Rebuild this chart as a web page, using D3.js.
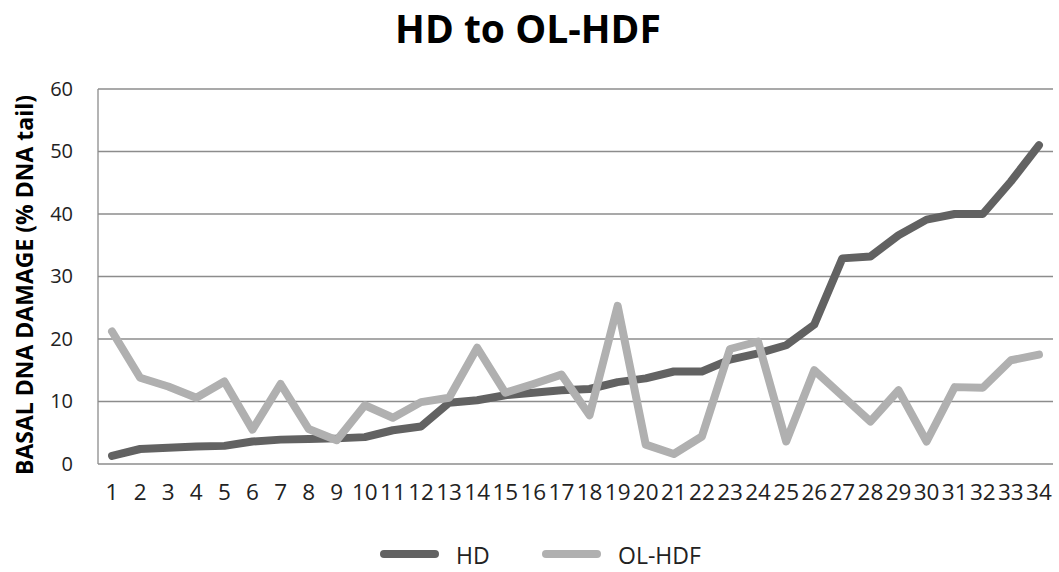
<!DOCTYPE html>
<html><head><meta charset="utf-8">
<script src="https://cdn.jsdelivr.net/npm/d3@7/dist/d3.min.js"></script>
<style>body{margin:0;background:#fff}svg{display:block}</style>
</head><body>
<script>
const categories = d3.range(1, 35).map(String);
const hdValues = [1.3,2.4,2.6,2.8,2.9,3.6,3.9,4.0,4.1,4.3,5.4,6.0,9.8,10.2,11.0,11.4,11.8,12.0,13.1,13.7,14.8,14.8,16.7,17.7,19.0,22.3,32.9,33.2,36.6,39.1,40.0,40.0,45.2,51.0];
const olhdfValues = [21.2,13.8,12.4,10.6,13.2,5.5,12.8,5.6,3.8,9.4,7.4,9.9,10.6,18.6,11.4,12.8,14.3,7.8,25.3,3.1,1.6,4.4,18.4,19.6,3.6,15.0,10.9,6.8,11.8,3.6,12.3,12.2,16.6,17.5];
const yTicks = [0,10,20,30,40,50,60];
const seriesNames = ["HD","OL-HDF"];
const seriesColors = ["#626262","#b0b0b0"];

const W = 1059, H = 572;
const m = {left: 98, right: 6, top: 89, bottom: 108};
const svg = d3.select("body").append("svg").attr("width", W).attr("height", H);
const font = "'Open Sans', 'Noto Sans', sans-serif";

const x = d3.scaleBand().domain(categories).range([m.left, W - m.right]);
const y = d3.scaleLinear().domain([0, 60]).range([H - m.bottom, m.top]);

// gridlines
svg.append("g").selectAll("line").data(yTicks).join("line")
  .attr("x1", m.left).attr("x2", W - m.right)
  .attr("y1", d => y(d)).attr("y2", d => y(d))
  .attr("stroke", "#8c8c8c").attr("stroke-width", 1.3);
// y axis line
svg.append("line").attr("x1", m.left).attr("x2", m.left)
  .attr("y1", y(60)).attr("y2", y(0)).attr("stroke", "#8c8c8c").attr("stroke-width", 1.3);

// y axis labels
const yAxis = d3.axisLeft(y).tickValues(yTicks).tickSize(0).tickPadding(25);
const gy = svg.append("g").attr("transform", `translate(${m.left},0)`).call(yAxis);
gy.select(".domain").remove();
gy.selectAll("text").attr("font-family", font).attr("font-size", 20).attr("fill", "#222");

// x axis labels
const xAxis = d3.axisBottom(x).tickSize(0).tickPadding(20);
const gx = svg.append("g").attr("transform", `translate(0,${y(0)})`).call(xAxis);
gx.select(".domain").remove();
gx.selectAll("text").attr("font-family", font).attr("font-size", 22.5).attr("fill", "#222");

// lines
const line = d3.line().x((d, i) => x(categories[i]) + x.bandwidth() / 2).y(d => y(d));
[hdValues, olhdfValues].forEach((vals, k) => {
  svg.append("path").datum(vals).attr("d", line)
    .attr("fill", "none").attr("stroke", seriesColors[k]).attr("stroke-width", 8)
    .attr("stroke-linejoin", "round").attr("stroke-linecap", "round");
});

// title
svg.append("text").attr("x", 528).attr("y", 43).attr("text-anchor", "middle")
  .attr("font-family", font).attr("font-weight", "bold").attr("font-size", 39).attr("fill", "#000")
  .text("HD to OL-HDF");

// y title
svg.append("text").attr("transform", `translate(33,285) rotate(-90)`)
  .attr("text-anchor", "middle").attr("font-family", font).attr("font-weight", "bold")
  .attr("font-size", 23).attr("fill", "#000")
  .text("BASAL DNA DAMAGE (% DNA tail)");

// legend
const legX = [380, 542];
seriesNames.forEach((n, k) => {
  svg.append("line").attr("x1", legX[k] + 4).attr("x2", legX[k] + 55).attr("y1", 554).attr("y2", 554)
    .attr("stroke", seriesColors[k]).attr("stroke-width", 8).attr("stroke-linecap", "round");
  svg.append("text").attr("x", legX[k] + 76).attr("y", 564)
    .attr("font-family", font).attr("font-size", 23).attr("fill", "#222").text(n);
});
</script>
</body></html>
